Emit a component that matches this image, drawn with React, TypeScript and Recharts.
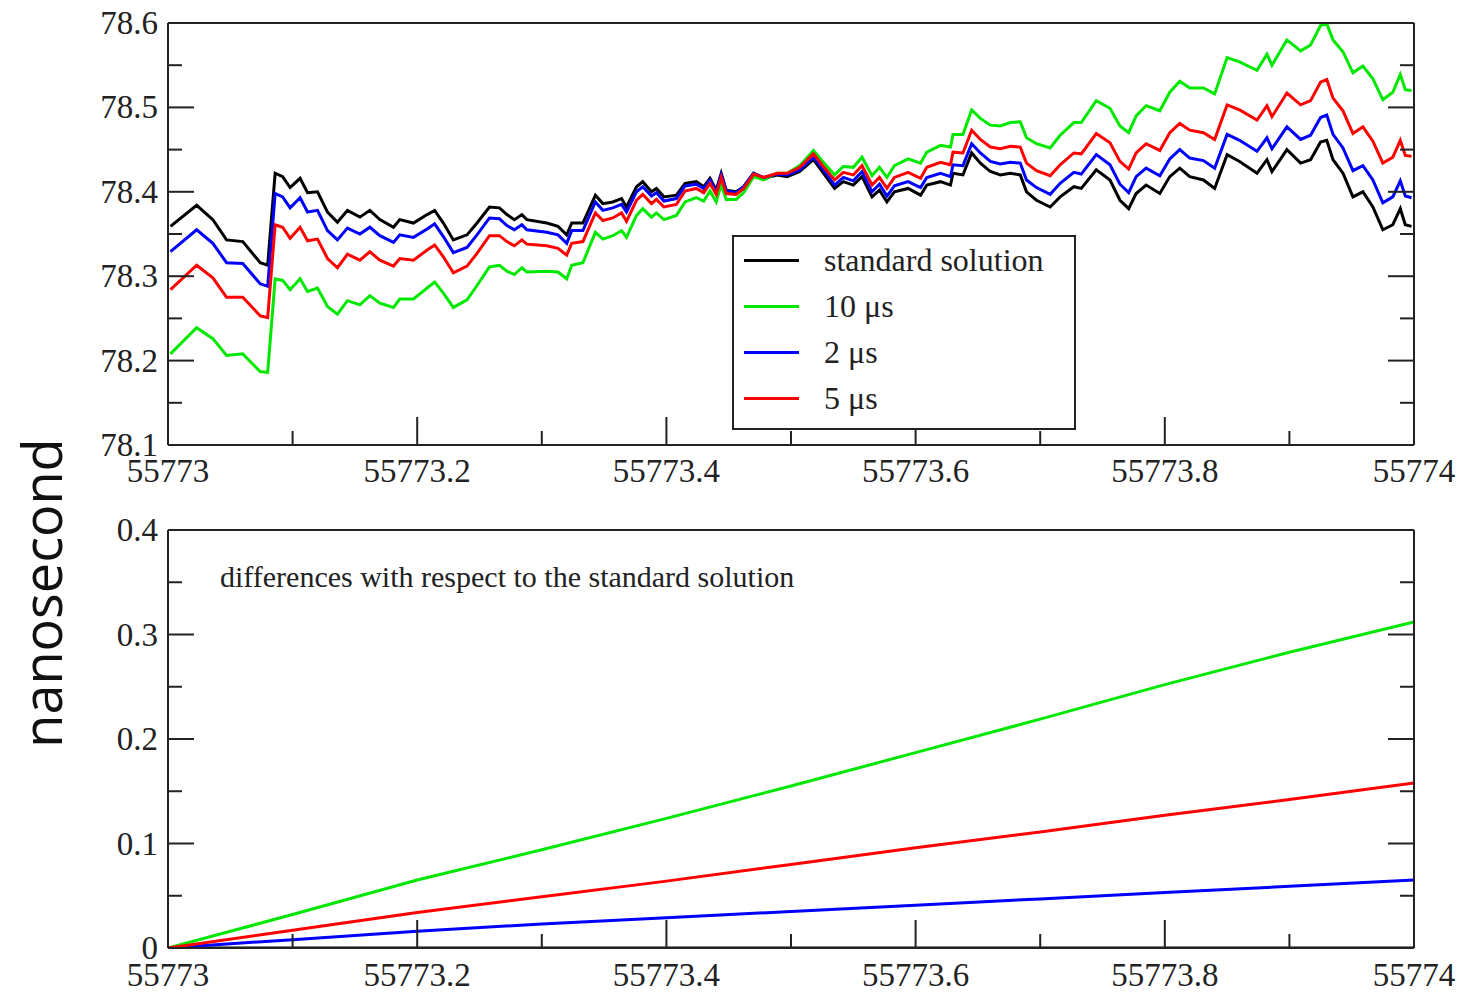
import React from "react";
import { Legend, Line, LineChart, XAxis, YAxis } from "recharts";

// top panel: clock solution (ns) vs MJD
const mjd = [
  55773.002, 55773.023, 55773.036, 55773.047, 55773.06, 55773.074, 55773.08, 55773.086, 55773.092, 55773.098,
  55773.106, 55773.112, 55773.12, 55773.128, 55773.136, 55773.144, 55773.154, 55773.162, 55773.17, 55773.181,
  55773.186, 55773.197, 55773.208, 55773.214, 55773.221, 55773.229, 55773.24, 55773.248, 55773.258, 55773.266,
  55773.272, 55773.278, 55773.284, 55773.288, 55773.304, 55773.313, 55773.32, 55773.324, 55773.333, 55773.343,
  55773.349, 55773.357, 55773.364, 55773.368, 55773.376, 55773.381, 55773.388, 55773.392, 55773.398, 55773.408,
  55773.415, 55773.424, 55773.43, 55773.435, 55773.44, 55773.444, 55773.448, 55773.456, 55773.462, 55773.47,
  55773.478, 55773.489, 55773.497, 55773.507, 55773.518, 55773.526, 55773.535, 55773.542, 55773.55, 55773.557,
  55773.565, 55773.571, 55773.577, 55773.583, 55773.594, 55773.604, 55773.609, 55773.62, 55773.628, 55773.63,
  55773.638, 55773.645, 55773.652, 55773.66, 55773.668, 55773.676, 55773.684, 55773.689, 55773.697, 55773.708,
  55773.716, 55773.727, 55773.733, 55773.745, 55773.756, 55773.764, 55773.771, 55773.777, 55773.785, 55773.796,
  55773.804, 55773.812, 55773.82, 55773.831, 55773.84, 55773.85, 55773.86, 55773.874, 55773.882, 55773.886,
  55773.898, 55773.909, 55773.917, 55773.925, 55773.93, 55773.935, 55773.943, 55773.951, 55773.959, 55773.967,
  55773.975, 55773.983, 55773.989, 55773.993, 55773.998,
];

const standardSolution = [
  78.359, 78.384, 78.367, 78.343, 78.341, 78.316, 78.313, 78.422, 78.418, 78.405,
  78.416, 78.399, 78.4, 78.376, 78.364, 78.378, 78.37, 78.378, 78.367, 78.358,
  78.367, 78.363, 78.373, 78.378, 78.363, 78.343, 78.349, 78.363, 78.382, 78.381,
  78.373, 78.367, 78.373, 78.367, 78.363, 78.359, 78.349, 78.363, 78.363, 78.396,
  78.386, 78.388, 78.392, 78.382, 78.406, 78.412, 78.4, 78.404, 78.394, 78.396,
  78.41, 78.412, 78.406, 78.416, 78.402, 78.422, 78.402, 78.4, 78.406, 78.422,
  78.416, 78.42, 78.418, 78.424, 78.438, 78.422, 78.404, 78.412, 78.408, 78.418,
  78.394, 78.402, 78.388, 78.4, 78.404, 78.396, 78.408, 78.412, 78.408, 78.422,
  78.42, 78.446, 78.434, 78.424, 78.42, 78.422, 78.42, 78.4, 78.39, 78.382,
  78.394, 78.406, 78.404, 78.426, 78.414, 78.39, 78.38, 78.398, 78.408, 78.398,
  78.418, 78.428, 78.418, 78.414, 78.404, 78.444, 78.436, 78.422, 78.438, 78.424,
  78.45, 78.434, 78.438, 78.459, 78.461, 78.438, 78.422, 78.394, 78.4, 78.382,
  78.355, 78.361, 78.38, 78.361, 78.359,
];

const tenMicro = [
  78.208, 78.239, 78.226, 78.206, 78.208, 78.187, 78.186, 78.297, 78.295, 78.284,
  78.297, 78.282, 78.286, 78.264, 78.255, 78.271, 78.266, 78.277, 78.268, 78.263,
  78.273, 78.273, 78.286, 78.293, 78.28, 78.263, 78.272, 78.289, 78.311, 78.313,
  78.306, 78.302, 78.31, 78.305, 78.306, 78.305, 78.297, 78.313, 78.316, 78.352,
  78.344, 78.348, 78.354, 78.346, 78.372, 78.38, 78.37, 78.375, 78.367, 78.372,
  78.388, 78.393, 78.389, 78.401, 78.388, 78.409, 78.391, 78.391, 78.399, 78.418,
  78.414, 78.422, 78.422, 78.431, 78.449, 78.435, 78.42, 78.43, 78.429, 78.441,
  78.419, 78.429, 78.417, 78.431, 78.439, 78.434, 78.447, 78.455, 78.453, 78.468,
  78.468, 78.497, 78.487, 78.479, 78.478, 78.482, 78.483, 78.464, 78.457, 78.452,
  78.467, 78.482, 78.482, 78.508, 78.499, 78.478, 78.47, 78.49, 78.502, 78.496,
  78.518, 78.531, 78.523, 78.523, 78.516, 78.559, 78.554, 78.544, 78.563, 78.55,
  78.58, 78.567, 78.574, 78.597, 78.599, 78.58, 78.566, 78.541, 78.549, 78.534,
  78.509, 78.518, 78.539, 78.521, 78.52,
];

const twoMicro = [
  78.329, 78.355, 78.339, 78.316, 78.315, 78.291, 78.288, 78.398, 78.394, 78.381,
  78.393, 78.376, 78.378, 78.354, 78.343, 78.357, 78.35, 78.358, 78.348, 78.34,
  78.349, 78.346, 78.356, 78.362, 78.347, 78.328, 78.334, 78.349, 78.369, 78.368,
  78.36, 78.355, 78.361, 78.355, 78.352, 78.349, 78.339, 78.354, 78.354, 78.388,
  78.378, 78.381, 78.385, 78.376, 78.4, 78.406, 78.395, 78.399, 78.389, 78.392,
  78.407, 78.409, 78.404, 78.414, 78.4, 78.42, 78.401, 78.399, 78.406, 78.422,
  78.417, 78.421, 78.42, 78.426, 78.441, 78.426, 78.408, 78.417, 78.413, 78.424,
  78.4, 78.409, 78.395, 78.407, 78.412, 78.405, 78.417, 78.422, 78.418, 78.432,
  78.431, 78.457, 78.446, 78.436, 78.433, 78.435, 78.434, 78.414, 78.405, 78.397,
  78.41, 78.423, 78.421, 78.444, 78.432, 78.409, 78.399, 78.418, 78.428, 78.419,
  78.439, 78.45, 78.44, 78.437, 78.428, 78.468, 78.461, 78.448, 78.464, 78.451,
  78.477, 78.462, 78.467, 78.488, 78.491, 78.468, 78.452, 78.425, 78.431, 78.414,
  78.387, 78.394, 78.413, 78.395, 78.393,
];

const fiveMicro = [
  78.284, 78.313, 78.298, 78.275, 78.275, 78.253, 78.251, 78.361, 78.358, 78.345,
  78.358, 78.342, 78.344, 78.321, 78.31, 78.326, 78.319, 78.329, 78.319, 78.312,
  78.321, 78.319, 78.331, 78.337, 78.323, 78.304, 78.312, 78.327, 78.348, 78.348,
  78.341, 78.336, 78.343, 78.338, 78.336, 78.333, 78.325, 78.339, 78.341, 78.375,
  78.366, 78.369, 78.375, 78.365, 78.39, 78.397, 78.386, 78.391, 78.382, 78.385,
  78.401, 78.404, 78.399, 78.41, 78.397, 78.417, 78.398, 78.397, 78.404, 78.421,
  78.417, 78.422, 78.422, 78.429, 78.445, 78.43, 78.414, 78.423, 78.42, 78.431,
  78.408, 78.417, 78.404, 78.417, 78.423, 78.416, 78.429, 78.435, 78.432, 78.447,
  78.446, 78.473, 78.462, 78.453, 78.451, 78.454, 78.453, 78.434, 78.425, 78.419,
  78.432, 78.446, 78.445, 78.469, 78.458, 78.436, 78.427, 78.446, 78.457, 78.449,
  78.47, 78.481, 78.473, 78.47, 78.462, 78.503, 78.497, 78.485, 78.502, 78.489,
  78.517, 78.503, 78.508, 78.53, 78.533, 78.511, 78.496, 78.469, 78.477, 78.46,
  78.434, 78.441, 78.461, 78.443, 78.442,
];

// bottom panel: differences with respect to the standard solution
const diffMjd = [55773, 55773.1, 55773.2, 55773.3, 55773.4, 55773.5, 55773.6, 55773.7, 55773.8, 55773.9, 55774];
const diffStandard = [0, 0, 0, 0, 0, 0, 0, 0, 0, 0, 0];
const diffTen = [0, 0.032, 0.065, 0.094, 0.124, 0.155, 0.187, 0.219, 0.252, 0.283, 0.312];
const diffTwo = [0, 0.008, 0.016, 0.023, 0.029, 0.035, 0.041, 0.047, 0.053, 0.059, 0.065];
const diffFive = [0, 0.017, 0.034, 0.049, 0.064, 0.08, 0.096, 0.111, 0.127, 0.142, 0.158];

// ticks alternate major / minor
const xTicks = [55773, 55773.1, 55773.2, 55773.3, 55773.4, 55773.5, 55773.6, 55773.7, 55773.8, 55773.9, 55774];
const yTicksTop = [78.1, 78.15, 78.2, 78.25, 78.3, 78.35, 78.4, 78.45, 78.5, 78.55, 78.6];
const yTicksBottom = [0, 0.05, 0.1, 0.15, 0.2, 0.25, 0.3, 0.35, 0.4];
const legendOrder = ["standard", "ten", "two", "five"];

const topRows = mjd.map((t, i) => ({
  t,
  standard: standardSolution[i],
  ten: tenMicro[i],
  two: twoMicro[i],
  five: fiveMicro[i],
}));

const bottomRows = diffMjd.map((t, i) => ({
  t,
  standard: diffStandard[i],
  ten: diffTen[i],
  two: diffTwo[i],
  five: diffFive[i],
}));

const INK = "#222";
const SERIF = "'Liberation Serif', 'Times New Roman', serif";
const GREEN = "#00e800";
const MAJOR = 26;
const MINOR = 14;

const TickLabel = ({ x, y, anchor, children }: any) => (
  <text x={x} y={y} textAnchor={anchor} dominantBaseline="central" fontFamily={SERIF} fontSize={33} fill={INK}>
    {children}
  </text>
);

const bottomTick = (labelGap: number) => (props: any) => {
  const { x, y, payload, index } = props;
  const major = index % 2 === 0;
  return (
    <g>
      <line x1={x} x2={x} y1={y} y2={y - (major ? MAJOR + 2 : MINOR)} stroke={INK} strokeWidth={2} />
      {major && <TickLabel x={x} y={y + labelGap} anchor="middle">{String(payload.value)}</TickLabel>}
    </g>
  );
};

const topTick = (props: any) => {
  const { x, y, index } = props;
  const major = index % 2 === 0;
  return <line x1={x} x2={x} y1={y} y2={y + (major ? MAJOR : MINOR)} stroke={INK} strokeWidth={2} />;
};

const leftTick = (props: any) => {
  const { x, y, payload, index } = props;
  const major = index % 2 === 0;
  return (
    <g>
      <line x1={x} x2={x + (major ? MAJOR : MINOR)} y1={y} y2={y} stroke={INK} strokeWidth={2} />
      {major && <TickLabel x={x - 10} y={y} anchor="end">{String(payload.value)}</TickLabel>}
    </g>
  );
};

const rightTick = (props: any) => {
  const { x, y, index } = props;
  const major = index % 2 === 0;
  return <line x1={x} x2={x - (major ? MAJOR : MINOR)} y1={y} y2={y} stroke={INK} strokeWidth={2} />;
};

const LegendBox = ({ payload }: any) => {
  const items = [...(payload || [])].sort(
    (a: any, b: any) => legendOrder.indexOf(a.dataKey) - legendOrder.indexOf(b.dataKey)
  );
  return (
    <div
      style={{
        width: 344,
        height: 195,
        boxSizing: "border-box",
        border: `2px solid ${INK}`,
        background: "#fff",
        paddingTop: 0,
        fontFamily: SERIF,
        fontSize: 32,
        color: INK,
      }}
    >
      {items.map((entry: any) => (
        <div key={entry.value} style={{ display: "flex", alignItems: "center", height: 46 }}>
          <div style={{ marginLeft: 10, width: 55, height: 3, background: entry.color }} />
          <span style={{ marginLeft: 25, lineHeight: 1 }}>{entry.value}</span>
        </div>
      ))}
    </div>
  );
};

const series = (rowsKey: string) => [
  <Line key={`${rowsKey}-s`} dataKey="standard" name="standard solution" stroke="#000" strokeWidth={3} dot={false} isAnimationActive={false} />,
  <Line key={`${rowsKey}-10`} dataKey="ten" name="10 μs" stroke={GREEN} strokeWidth={3} dot={false} isAnimationActive={false} />,
  <Line key={`${rowsKey}-2`} dataKey="two" name="2 μs" stroke="#0000ff" strokeWidth={3} dot={false} isAnimationActive={false} />,
  <Line key={`${rowsKey}-5`} dataKey="five" name="5 μs" stroke="#ff0000" strokeWidth={3} dot={false} isAnimationActive={false} />,
];

export default function App() {
  const xDomain: [number, number] = [55773, 55774];
  return (
    <div style={{ position: "absolute", left: 0, top: 0, width: 1470, height: 995, background: "#fff" }}>
      <div style={{ position: "absolute", left: 0, top: 0 }}>
        <LineChart width={1470} height={500} data={topRows} margin={{ top: 0, right: 36, bottom: 0, left: 68 }}>
          <XAxis dataKey="t" type="number" domain={xDomain} ticks={xTicks} interval={0} allowDataOverflow
            height={55} tickSize={0} tickMargin={0} tickLine={false} axisLine={{ stroke: INK, strokeWidth: 2 }} tick={bottomTick(26)} />
          <XAxis xAxisId="top" orientation="top" type="number" domain={xDomain} ticks={xTicks} interval={0} allowDataOverflow
            height={23} tickSize={0} tickMargin={0} tickLine={false} axisLine={{ stroke: INK, strokeWidth: 2 }} tick={topTick} />
          <YAxis type="number" domain={[78.1, 78.6]} ticks={yTicksTop} interval={0} allowDataOverflow
            width={100} tickSize={0} tickMargin={0} tickLine={false} axisLine={{ stroke: INK, strokeWidth: 2 }} tick={leftTick} />
          <YAxis yAxisId="right" orientation="right" type="number" domain={[78.1, 78.6]} ticks={yTicksTop} interval={0} allowDataOverflow
            width={20} tickSize={0} tickMargin={0} tickLine={false} axisLine={{ stroke: INK, strokeWidth: 2 }} tick={rightTick} />
          {series("top")}
          <Legend layout="horizontal" verticalAlign="middle" align="center" content={LegendBox}
            wrapperStyle={{ left: 732, top: 235, width: 344, height: 195 }} />
        </LineChart>
      </div>

      <div style={{ position: "absolute", left: 0, top: 500 }}>
        <LineChart width={1470} height={495} data={bottomRows} margin={{ top: 0, right: 36, bottom: 0, left: 68 }}>
          <XAxis dataKey="t" type="number" domain={xDomain} ticks={xTicks} interval={0} allowDataOverflow
            height={47} tickSize={0} tickMargin={0} tickLine={false} axisLine={{ stroke: INK, strokeWidth: 2 }} tick={bottomTick(27)} />
          <XAxis xAxisId="top" orientation="top" type="number" domain={xDomain} ticks={xTicks} interval={0} allowDataOverflow
            height={30} tickSize={0} tickMargin={0} tickLine={false} axisLine={{ stroke: INK, strokeWidth: 2 }} tick={topTick} />
          <YAxis type="number" domain={[0, 0.4]} ticks={yTicksBottom} interval={0} allowDataOverflow
            width={100} tickSize={0} tickMargin={0} tickLine={false} axisLine={{ stroke: INK, strokeWidth: 2 }} tick={leftTick} />
          <YAxis yAxisId="right" orientation="right" type="number" domain={[0, 0.4]} ticks={yTicksBottom} interval={0} allowDataOverflow
            width={20} tickSize={0} tickMargin={0} tickLine={false} axisLine={{ stroke: INK, strokeWidth: 2 }} tick={rightTick} />
          {series("bottom")}
        </LineChart>
      </div>

      <div
        style={{
          position: "absolute",
          left: 220,
          top: 577,
          transform: "translateY(-50%)",
          fontFamily: SERIF,
          fontSize: 30,
          lineHeight: 1,
          color: INK,
          whiteSpace: "nowrap",
        }}
      >
        differences with respect to the standard solution
      </div>

      <div
        style={{
          position: "absolute",
          left: 41,
          top: 593,
          transform: "translate(-50%, -50%) rotate(-90deg)",
          fontFamily: "'Open Sans', 'Noto Sans', sans-serif",
          fontSize: 54,
          lineHeight: 1,
          color: "#111",
          whiteSpace: "nowrap",
        }}
      >
        nanosecond
      </div>
    </div>
  );
}
